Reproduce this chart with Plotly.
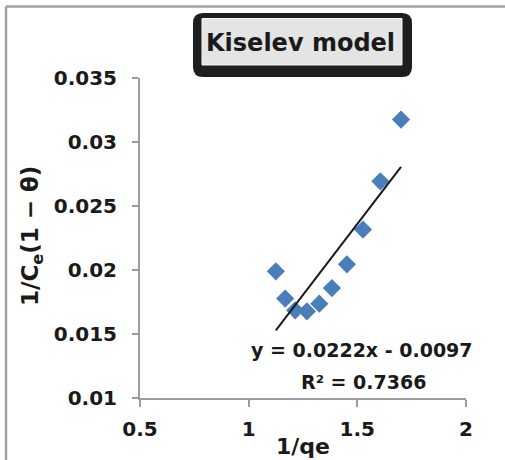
import plotly.graph_objects as go

# Data
inv_qe = [1.125, 1.168, 1.214, 1.268, 1.325, 1.383, 1.452, 1.526, 1.606, 1.701]
inv_ce = [0.0199, 0.01777, 0.01685, 0.01677, 0.01737, 0.01859, 0.02044, 0.02316, 0.02693, 0.03175]
slope = 0.0222
intercept = -0.0097
r2 = 0.7366
x_ticks = [0.5, 1, 1.5, 2]
x_tick_text = ["0.5", "1", "1.5", "2"]
y_ticks = [0.01, 0.015, 0.02, 0.025, 0.03, 0.035]
y_tick_text = ["0.01", "0.015", "0.02", "0.025", "0.03", "0.035"]

FONT = "DejaVu Sans"
AXC = "#9c9c9c"

trend_x = [min(inv_qe), max(inv_qe)]
trend_y = [slope * v + intercept for v in trend_x]

fig = go.Figure()
fig.add_trace(go.Scatter(
    x=inv_qe, y=inv_ce, mode="markers",
    marker=dict(symbol="diamond", size=14, color="#4A7EBB", line=dict(width=0)),
    showlegend=False, cliponaxis=False,
))
fig.add_trace(go.Scatter(
    x=trend_x, y=trend_y, mode="lines",
    line=dict(color="#1a1a1a", width=2),
    showlegend=False,
))

# plot area: x 140..466, y 78..398
def px(x):
    return (x - 140) / 326.0

def py(y):
    return (398 - y) / 320.0

shapes = [
    # outer chart border (top and left visible)
    dict(type="line", xref="paper", yref="paper",
         x0=px(6), x1=px(505), y0=py(6.5), y1=py(6.5),
         line=dict(color="#a0a0a0", width=2.5), layer="below"),
    dict(type="line", xref="paper", yref="paper",
         x0=px(6), x1=px(6), y0=py(6.5), y1=py(460),
         line=dict(color="#a0a0a0", width=2.5), layer="below"),
]

def rounded(x0, y0, x1, y1, r):
    X0, X1, Y0, Y1 = px(x0), px(x1), py(y0), py(y1)
    rx = r / 326.0
    ry = r / 320.0
    return (f"M {X0+rx},{Y0} L {X1-rx},{Y0} Q {X1},{Y0} {X1},{Y0-ry} "
            f"L {X1},{Y1+ry} Q {X1},{Y1} {X1-rx},{Y1} L {X0+rx},{Y1} "
            f"Q {X0},{Y1} {X0},{Y1+ry} L {X0},{Y0-ry} Q {X0},{Y0} {X0+rx},{Y0} Z")

shapes.append(dict(type="path", xref="paper", yref="paper",
                   path=rounded(193, 13, 412, 77, 10),
                   fillcolor="#1e1e1e", line=dict(color="#1e1e1e", width=0)))
shapes.append(dict(type="rect", xref="paper", yref="paper",
                   x0=px(202), x1=px(402), y0=py(65), y1=py(18.5),
                   fillcolor="#e4e4e4", line=dict(color="#f4f4f4", width=1)))

annotations = [
    dict(text="<b>Kiselev model</b>", xref="paper", yref="paper",
         x=px(300.5), y=py(43), xanchor="center", yanchor="middle",
         showarrow=False, font=dict(family=FONT, size=24, color="#1a1a1a")),
    dict(text=f"<b>y = {slope}x - {abs(intercept)}</b>", xref="paper", yref="paper",
         x=px(362), y=py(350), xanchor="center", yanchor="middle",
         showarrow=False, font=dict(family=FONT, size=19, color="#1a1a1a")),
    dict(text=f"<b>R² = {r2}</b>", xref="paper", yref="paper",
         x=px(363), y=py(382), xanchor="center", yanchor="middle",
         showarrow=False, font=dict(family=FONT, size=19, color="#1a1a1a")),
    dict(text="<b>1/qe</b>", xref="paper", yref="paper",
         x=px(303), y=py(446), xanchor="center", yanchor="middle",
         showarrow=False, font=dict(family=FONT, size=22, color="#1a1a1a")),
    dict(text="<b>1/C<sub>e</sub>(1 − θ)</b>", xref="paper", yref="paper",
         x=px(32), y=py(236), xanchor="center", yanchor="middle", textangle=-90,
         showarrow=False, font=dict(family=FONT, size=23, color="#1a1a1a")),
]

fig.update_layout(
    width=505, height=460,
    margin=dict(l=140, r=39, t=78, b=62),
    paper_bgcolor="white", plot_bgcolor="white",
    shapes=shapes, annotations=annotations,
    font=dict(family=FONT, color="#1a1a1a"),
    xaxis=dict(range=[0.5, 2], tickvals=x_ticks, ticktext=[f"<b>{t}</b>" for t in x_tick_text],
               showgrid=False, zeroline=False, showline=True, linecolor=AXC, linewidth=2,
               ticks="outside", ticklen=7, tickwidth=2, tickcolor=AXC,
               ticklabelstandoff=5,
               tickfont=dict(family=FONT, size=20, color="#1a1a1a")),
    yaxis=dict(range=[0.01, 0.035], tickvals=y_ticks, ticktext=[f"<b>{t}</b>" for t in y_tick_text],
               showgrid=False, zeroline=False, showline=True, linecolor=AXC, linewidth=2,
               ticks="outside", ticklen=6, tickwidth=2, tickcolor=AXC,
               ticklabelstandoff=11,
               tickfont=dict(family=FONT, size=20, color="#1a1a1a")),
)

fig.write_html("out.html", config={"displayModeBar": False},
               post_script="document.body.style.margin='0px';document.body.style.overflow='hidden';")
